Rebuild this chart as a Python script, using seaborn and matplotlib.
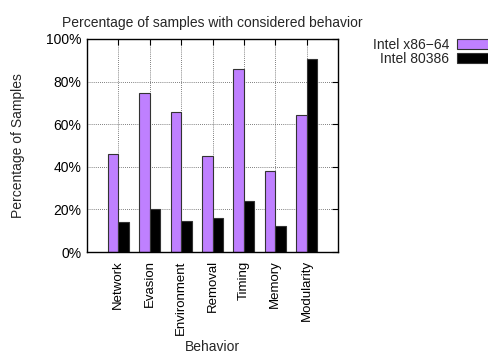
import matplotlib
matplotlib.use("Agg")
import matplotlib.pyplot as plt
import seaborn as sns
import pandas as pd

behaviors = ["Network", "Evasion", "Environment", "Removal", "Timing", "Memory", "Modularity"]
x86_64 = [46, 74.5, 65.5, 45, 86, 38, 64.5]
i80386 = [14, 20, 14.5, 16, 24, 12, 90.5]
series = ["Intel x86\u221264", "Intel 80386"]
colors = ["#bf80ff", "#000000"]
yticks = [0, 20, 40, 60, 80, 100]

df = pd.DataFrame({
    "Behavior": behaviors * 2,
    "value": x86_64 + i80386,
    "arch": [series[0]] * len(behaviors) + [series[1]] * len(behaviors),
})

sns.set_style("white")
plt.rcParams["font.family"] = ["Liberation Sans", "DejaVu Sans"]
plt.rcParams["font.size"] = 10

fig = plt.figure(figsize=(4.88, 3.53), dpi=100)
ax = fig.add_axes([87 / 488, 1 - 252 / 353, (338 - 87) / 488, (252 - 39) / 353])

sns.barplot(data=df, x="Behavior", y="value", hue="arch", hue_order=series,
            palette=colors, width=2 / 3, edgecolor="#333333", linewidth=0.8,
            saturation=1, ax=ax, legend=True)

ax.set_xlim(-1, 7)
ax.set_ylim(0, 100)
ax.set_yticks(yticks)
ax.set_yticklabels([f"{v}%" for v in yticks])
ax.set_xticks(range(len(behaviors)))
ax.set_xticklabels(behaviors, rotation=90, fontsize=9.5)

ax.set_axisbelow(True)
ax.grid(True, linestyle=(0, (1, 1.5)), color="#555555", linewidth=0.6)
ax.tick_params(axis="both", direction="in", length=4, width=0.8,
               top=True, right=True, bottom=False, pad=4, colors="black")
ax.tick_params(axis="x", pad=6)
for s in ax.spines.values():
    s.set_visible(True)
    s.set_color("black")
    s.set_linewidth(1.0)

ax.set_title("Percentage of samples with considered behavior", fontsize=10, pad=9)
ax.set_ylabel("Percentage of Samples", labelpad=15)
ax.set_xlabel("Behavior", labelpad=4)

ax.legend(loc="upper left", bbox_to_anchor=(367 / 251 - 87 / 251, 1.03),
          frameon=False, markerfirst=False, handlelength=4.5, handleheight=0.7,
          labelspacing=0.0, borderaxespad=0, handletextpad=0.6, fontsize=10)

fig.savefig("out.png", dpi=100)
